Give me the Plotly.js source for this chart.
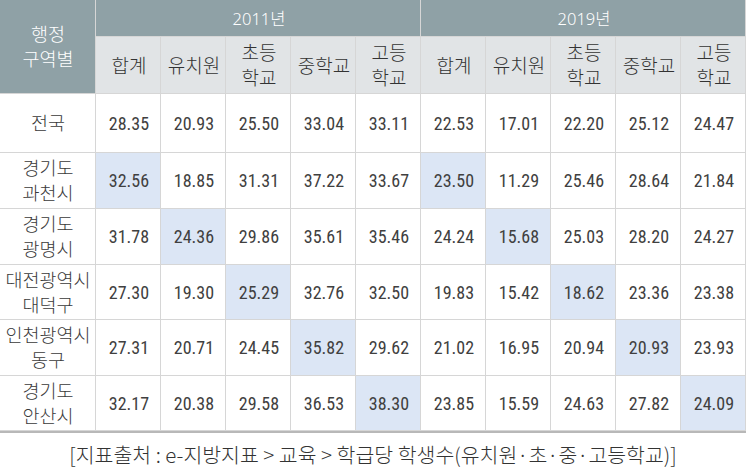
<!DOCTYPE html>
<html>
<head>
<meta charset="utf-8">
<script src="https://cdn.plot.ly/plotly-3.0.1.min.js"></script>
<style>html,body{margin:0;padding:0;background:#fff;}#chart{width:746px;height:471px;}</style>
</head>
<body>
<div id="chart"></div>
<script>
// ---- data ----
const cornerLabel = '행정<br>구역별';
const years = ['2011년', '2019년'];
const subHeaders = ['합계', '유치원', '초등<br>학교', '중학교', '고등<br>학교'];
const regions = ['전국', '경기도<br>과천시', '경기도<br>광명시', '대전광역시<br>대덕구', '인천광역시<br>동구', '경기도<br>안산시'];
const y2011Total  = [28.35, 32.56, 31.78, 27.30, 27.31, 32.17];
const y2011Kinder = [20.93, 18.85, 24.36, 19.30, 20.71, 20.38];
const y2011Elem   = [25.50, 31.31, 29.86, 25.29, 24.45, 29.58];
const y2011Middle = [33.04, 37.22, 35.61, 32.76, 35.82, 36.53];
const y2011High   = [33.11, 33.67, 35.46, 32.50, 29.62, 38.30];
const y2019Total  = [22.53, 23.50, 24.24, 19.83, 21.02, 23.85];
const y2019Kinder = [17.01, 11.29, 15.68, 15.42, 16.95, 15.59];
const y2019Elem   = [22.20, 25.46, 25.03, 18.62, 20.94, 24.63];
const y2019Middle = [25.12, 28.64, 28.20, 23.36, 20.93, 27.82];
const y2019High   = [24.47, 21.84, 24.27, 23.38, 23.93, 24.09];
// highlighted sub-column (index into subHeaders) per region row, both years
const highlightCol = [null, 0, 1, 2, 3, 4];
const sourceNote = '[지표출처 : e-지방지표 > 교육 > 학급당 학생수(유치원·초·중·고등학교)]';

// ---- layout sizes ----
const firstColW = 96, colW = 65;
const hdr1H = 37, hdr2H = 57;
const rowH = [59, 56, 56, 55, 56, 55];
const cum = (start, arr) => arr.reduce((a, v) => { a.push(a[a.length - 1] + v); return a; }, [start]);

const dataCols = [y2011Total, y2011Kinder, y2011Elem, y2011Middle, y2011High,
                  y2019Total, y2019Kinder, y2019Elem, y2019Middle, y2019High];
const nSub = dataCols.length;
const subEdges = cum(firstColW, Array(nSub).fill(colW));
const totalW = subEdges[subEdges.length - 1];
const yearEdges = cum(firstColW, years.map(() => colW * subHeaders.length));
const hdrBottom = hdr1H + hdr2H;
const rowEdges = cum(hdrBottom, rowH);
const totalH = rowEdges[rowEdges.length - 1];

const numFont = 'Liberation Sans Narrow, Roboto Condensed, Noto Sans CJK KR, sans-serif';
const krFont = 'Noto Sans CJK KR';
const yearFont = 'Noto Sans, Noto Sans CJK KR, sans-serif';
const gray = '#8fa1a6', subBg = '#e1e4e6', hiBg = '#dce6f5', lineC = '#d6d6d6';

const common = { type: 'heatmap', hoverinfo: 'skip', showscale: false, zmin: 0, zmax: 1,
                 xgap: 1, ygap: 1, texttemplate: '%{text}' };

const corner = Object.assign({}, common, {
  x: [0, firstColW], y: [0, hdrBottom], z: [[0]], text: [[cornerLabel]],
  colorscale: [[0, gray], [1, gray]], textfont: { family: krFont, size: 18.5, color: '#ffffff', weight: 300 }
});
const yearTrace = Object.assign({}, common, {
  x: yearEdges, y: [0, hdr1H], z: [years.map(() => 0)], text: [years],
  colorscale: [[0, gray], [1, gray]], textfont: { family: yearFont, size: 16.5, color: '#ffffff', weight: 300 }
});
const subText = [];
years.forEach(() => subHeaders.forEach(s => subText.push(s)));
const subTrace = Object.assign({}, common, {
  x: subEdges, y: [hdr1H, hdrBottom], z: [subText.map(() => 0)], text: [subText],
  colorscale: [[0, subBg], [1, subBg]], textfont: { family: krFont, size: 19, color: '#333333', weight: 300 }
});
const labelTrace = Object.assign({}, common, {
  x: [0, firstColW], y: rowEdges, z: regions.map(() => [0]), text: regions.map(r => [r]),
  colorscale: [[0, '#ffffff'], [1, '#ffffff']], textfont: { family: krFont, size: 18.5, color: '#3a3a3a', weight: 300 }
});
const bodyZ = regions.map((r, i) => dataCols.map((c, j) =>
  (highlightCol[i] !== null && j % subHeaders.length === highlightCol[i]) ? 1 : 0));
const bodyText = regions.map((r, i) => dataCols.map(c => c[i].toFixed(2)));
const bodyTrace = Object.assign({}, common, {
  x: subEdges, y: rowEdges, z: bodyZ, text: bodyText,
  colorscale: [[0, '#ffffff'], [1, hiBg]], textfont: { family: numFont, size: 18, color: '#404040' }
});

const layout = {
  width: 746, height: 471,
  margin: { l: 0, r: 0, t: 0, b: 471 - totalH },
  paper_bgcolor: '#ffffff', plot_bgcolor: lineC,
  showlegend: false,
  xaxis: { range: [0, totalW], showgrid: false, zeroline: false, showticklabels: false, ticks: '',
           showline: true, linecolor: '#b8b8b8', linewidth: 2, fixedrange: true,
           title: { text: sourceNote, standoff: 17, font: { family: krFont, size: 20.5, color: '#333333', weight: 300 } } },
  yaxis: { range: [totalH, 0], showgrid: false, zeroline: false, showticklabels: false, ticks: '',
           showline: false, fixedrange: true }
};

Plotly.newPlot('chart', [corner, yearTrace, subTrace, labelTrace, bodyTrace], layout,
  { staticPlot: true, displayModeBar: false });
</script>
</body>
</html>
